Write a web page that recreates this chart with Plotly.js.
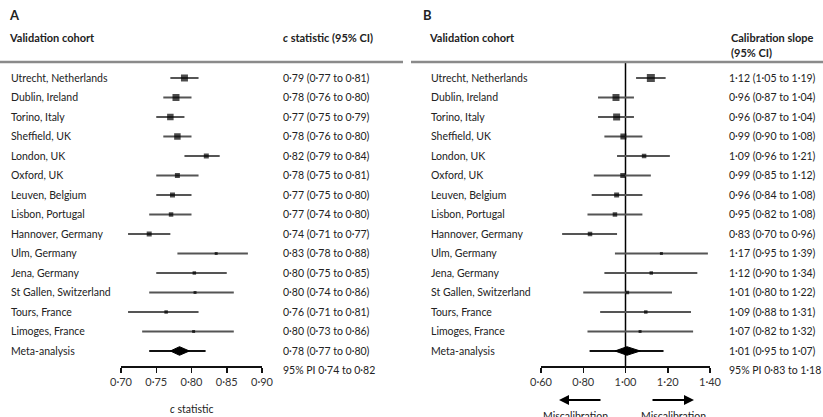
<!DOCTYPE html>
<html>
<head>
<meta charset="utf-8">
<script src="https://cdn.plot.ly/plotly-3.0.1.min.js"></script>
<style>html,body{margin:0;padding:0;background:#fff;}#chart{width:823px;height:417px;}</style>
</head>
<body>
<div id="chart"></div>
<script>
// ---------- DATA ----------
const cohorts = ['Utrecht, Netherlands','Dublin, Ireland','Torino, Italy','Sheffield, UK','London, UK','Oxford, UK','Leuven, Belgium','Lisbon, Portugal','Hannover, Germany','Ulm, Germany','Jena, Germany','St Gallen, Switzerland','Tours, France','Limoges, France'];
const metaLabel = 'Meta-analysis';

// Panel A: c statistic
const cEst = [0.790,0.778,0.770,0.780,0.821,0.780,0.773,0.771,0.740,0.835,0.804,0.805,0.764,0.803];
const cLo  = [0.77,0.76,0.75,0.76,0.79,0.75,0.75,0.74,0.71,0.78,0.75,0.74,0.71,0.73];
const cHi  = [0.81,0.80,0.79,0.80,0.84,0.81,0.80,0.80,0.77,0.88,0.85,0.86,0.81,0.86];
const cText = ['0·79 (0·77 to 0·81)','0·78 (0·76 to 0·80)','0·77 (0·75 to 0·79)','0·78 (0·76 to 0·80)','0·82 (0·79 to 0·84)','0·78 (0·75 to 0·81)','0·77 (0·75 to 0·80)','0·77 (0·74 to 0·80)','0·74 (0·71 to 0·77)','0·83 (0·78 to 0·88)','0·80 (0·75 to 0·85)','0·80 (0·74 to 0·86)','0·76 (0·71 to 0·81)','0·80 (0·73 to 0·86)'];
const cMeta = {est:0.783, lo:0.770, hi:0.797, piLo:0.74, piHi:0.82};
const cMetaText = '0·78 (0·77 to 0·80)';
const cPIText = '95% PI 0·74 to 0·82';
const cTickVals = [0.70,0.75,0.80,0.85,0.90];
const cTickText = ['0·70','0·75','0·80','0·85','0·90'];

// Panel B: calibration slope
const sEst = [1.12,0.955,0.958,0.99,1.088,0.987,0.958,0.95,0.832,1.17,1.122,1.009,1.096,1.069];
const sLo  = [1.05,0.87,0.87,0.90,0.96,0.85,0.84,0.82,0.70,0.95,0.90,0.80,0.88,0.82];
const sHi  = [1.19,1.04,1.04,1.08,1.21,1.12,1.08,1.08,0.96,1.39,1.34,1.22,1.31,1.32];
const sText = ['1·12 (1·05 to 1·19)','0·96 (0·87 to 1·04)','0·96 (0·87 to 1·04)','0·99 (0·90 to 1·08)','1·09 (0·96 to 1·21)','0·99 (0·85 to 1·12)','0·96 (0·84 to 1·08)','0·95 (0·82 to 1·08)','0·83 (0·70 to 0·96)','1·17 (0·95 to 1·39)','1·12 (0·90 to 1·34)','1·01 (0·80 to 1·22)','1·09 (0·88 to 1·31)','1·07 (0·82 to 1·32)'];
const sMeta = {est:1.007, lo:0.95, hi:1.07, piLo:0.83, piHi:1.18};
const sMetaText = '1·01 (0·95 to 1·07)';
const sPIText = '95% PI 0·83 to 1·18';
const sTickVals = [0.60,0.80,1.00,1.20,1.40];
const sTickText = ['0·60','0·80','1·00','1·20','1·40'];

// ---------- STYLE ----------
const boxSizeA = [7,7,6.5,6.5,5,5,5,4.5,5,3,3.5,3,3.5,3];
const boxSizeB = [8,7,7,6,4.5,5,5,4.5,4.5,3,3.5,3.5,3.5,3];
const W = 823, H = 417;
const px = v => v / W;
const py = v => 1 - v / H;
const FONT = 'Lato, "Open Sans", sans-serif';
const TXT = '#222';
const FS = 10.5;
const metaRow = cohorts.length;
const rows = cohorts.map((_, i) => i);

function ciLines(lo, hi, xa) {
  const x = [], y = [];
  lo.forEach((l, i) => { x.push(l, hi[i], null); y.push(i, i, null); });
  return {type:'scatter', mode:'lines', x, y, xaxis:xa, yaxis:'y', line:{color:'#555', width:2}, hoverinfo:'skip'};
}
function boxes(est, sizes, xa) {
  return {type:'scatter', mode:'markers', x:est, y:rows, xaxis:xa, yaxis:'y',
    marker:{symbol:'square', size:sizes, color:'#000', line:{width:0}}};
}
function metaTraces(m, xa) {
  const h = 0.22;
  return [
    {type:'scatter', mode:'lines', x:[m.piLo, m.piHi], y:[metaRow, metaRow], xaxis:xa, yaxis:'y', line:{color:'#111', width:2}},
    {type:'scatter', mode:'lines', x:[m.lo, m.est, m.hi, m.est, m.lo], y:[metaRow, metaRow-h, metaRow, metaRow+h, metaRow],
     xaxis:xa, yaxis:'y', fill:'toself', fillcolor:'#000', line:{color:'#000', width:1}}
  ];
}

const data = [
  ciLines(cLo, cHi, 'x'), boxes(cEst, boxSizeA, 'x'), ...metaTraces(cMeta, 'x'),
  ciLines(sLo, sHi, 'x2'), boxes(sEst, boxSizeB, 'x2'), ...metaTraces(sMeta, 'x2')
];

const ann = [];
function T(text, x, y, opts) {
  ann.push(Object.assign({text, x, y, xref:'paper', yref:'paper', showarrow:false, xanchor:'left', yanchor:'middle',
    font:{family:FONT, size:FS, color:TXT}}, opts || {}));
}
// panel letters and headers
T('<b>A</b>', px(7), py(15), {font:{family:FONT, size:13, color:TXT}});
T('<b>B</b>', px(421), py(15), {font:{family:FONT, size:13, color:TXT}});
T('<b>Validation cohort</b>', px(7), py(37), {font:{family:FONT, size:11, color:TXT}});
T('<b><i>c</i> statistic (95% CI)</b>', px(281), py(37), {font:{family:FONT, size:11, color:TXT}});
T('<b>Validation cohort</b>', px(427), py(37), {font:{family:FONT, size:11, color:TXT}});
T('<b>Calibration slope</b>', px(729), py(37), {font:{family:FONT, size:11, color:TXT}});
T('<b>(95% CI)</b>', px(729), py(52), {font:{family:FONT, size:11, color:TXT}});

// row labels and values
cohorts.concat([metaLabel]).forEach((name, i) => {
  T(name, px(9), i, {yref:'y'});
  T(name, px(429), i, {yref:'y'});
});
cText.concat([cMetaText]).forEach((t, i) => T(t, px(281), i, {yref:'y'}));
sText.concat([sMetaText]).forEach((t, i) => T(t, px(727), i, {yref:'y'}));
T(cPIText, px(281), py(370));
T(sPIText, px(727), py(370));

// axis titles
T('<i>c</i> statistic', px(191.5), py(409), {xanchor:'center'});
T('Miscalibration', px(575), py(408), {xanchor:'center', yanchor:'top'});
T('Miscalibration', px(673), py(408), {xanchor:'center', yanchor:'top'});
// arrows
ann.push({x:px(559), y:py(400), xref:'paper', yref:'paper', ax:43, ay:0, text:'', showarrow:true, arrowhead:2, arrowsize:1, arrowwidth:2, arrowcolor:'#000'});
ann.push({x:px(694), y:py(400), xref:'paper', yref:'paper', ax:-43, ay:0, text:'', showarrow:true, arrowhead:2, arrowsize:1, arrowwidth:2, arrowcolor:'#000'});

const yTop = -0.82, yBot = 14.77;
const axisCommon = {showline:true, linecolor:'#111', linewidth:1.5, ticks:'outside', ticklen:5, tickwidth:1.5, tickcolor:'#111',
  showgrid:false, zeroline:false, fixedrange:true, anchor:'y', tickfont:{family:FONT, size:11, color:'#333'}};

const layout = {
  width:W, height:H, margin:{l:0, r:0, t:0, b:0},
  paper_bgcolor:'#fff', plot_bgcolor:'rgba(0,0,0,0)', showlegend:false,
  xaxis:Object.assign({}, axisCommon, {domain:[px(121), px(262)], range:[0.70, 0.90], tickvals:cTickVals, ticktext:cTickText}),
  xaxis2:Object.assign({}, axisCommon, {domain:[px(541), px(710)], range:[0.60, 1.40], tickvals:sTickVals, ticktext:sTickText}),
  yaxis:{visible:false, range:[yBot, yTop], domain:[py(366), py(62)], fixedrange:true},
  shapes:[
    {type:'line', xref:'paper', yref:'paper', x0:0, x1:px(403), y0:py(62), y1:py(62), line:{color:'#8a8a8a', width:2.5}},
    {type:'line', xref:'paper', yref:'paper', x0:px(411), x1:1, y0:py(62), y1:py(62), line:{color:'#8a8a8a', width:2.5}},
    {type:'line', xref:'x2', yref:'y', x0:1, x1:1, y0:yTop, y1:yBot, line:{color:'#000', width:1.5}, layer:'below'}
  ],
  annotations:ann
};

Plotly.newPlot('chart', data, layout, {displayModeBar:false, staticPlot:true});
</script>
</body>
</html>
